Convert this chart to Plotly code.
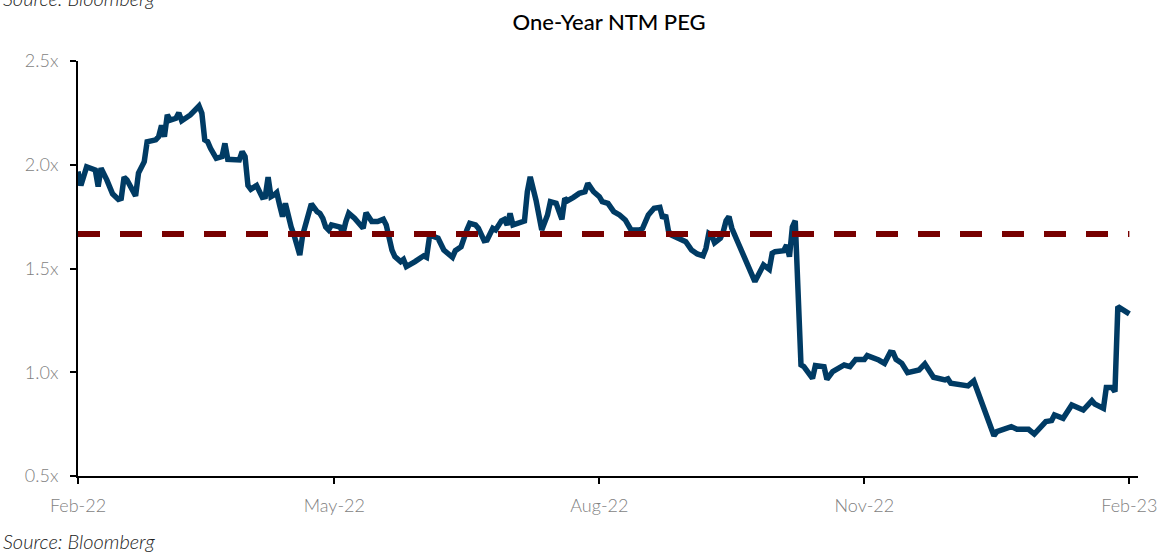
import plotly.graph_objects as go

dates = [
    "2022-02-01", "2022-02-02", "2022-02-04", "2022-02-07", "2022-02-08", "2022-02-09", "2022-02-11",
    "2022-02-13", "2022-02-15", "2022-02-16", "2022-02-17", "2022-02-18", "2022-02-21", "2022-02-22",
    "2022-02-24", "2022-02-25", "2022-02-28",
    "2022-03-01", "2022-03-02", "2022-03-03", "2022-03-04", "2022-03-05", "2022-03-07", "2022-03-08",
    "2022-03-09", "2022-03-12", "2022-03-15", "2022-03-16", "2022-03-17", "2022-03-18", "2022-03-19",
    "2022-03-21", "2022-03-23", "2022-03-24", "2022-03-25", "2022-03-27", "2022-03-29", "2022-03-30",
    "2022-03-31",
    "2022-04-01", "2022-04-02", "2022-04-03", "2022-04-04", "2022-04-06", "2022-04-07", "2022-04-08",
    "2022-04-09", "2022-04-10", "2022-04-11", "2022-04-12", "2022-04-13", "2022-04-14", "2022-04-15",
    "2022-04-16", "2022-04-17", "2022-04-19", "2022-04-20", "2022-04-21", "2022-04-23", "2022-04-25",
    "2022-04-26", "2022-04-27", "2022-04-28", "2022-04-29", "2022-04-30",
    "2022-05-03", "2022-05-04", "2022-05-05", "2022-05-06", "2022-05-08", "2022-05-10", "2022-05-11",
    "2022-05-12", "2022-05-14", "2022-05-16", "2022-05-18", "2022-05-19", "2022-05-20", "2022-05-21",
    "2022-05-22", "2022-05-24", "2022-05-25", "2022-05-26", "2022-05-29",
    "2022-06-01", "2022-06-02", "2022-06-03", "2022-06-04", "2022-06-06", "2022-06-08", "2022-06-10",
    "2022-06-11", "2022-06-12", "2022-06-13", "2022-06-14", "2022-06-16", "2022-06-17", "2022-06-19",
    "2022-06-20", "2022-06-22", "2022-06-23", "2022-06-25", "2022-06-26", "2022-06-28", "2022-06-29",
    "2022-06-30",
    "2022-07-01", "2022-07-02", "2022-07-06", "2022-07-07", "2022-07-08", "2022-07-10", "2022-07-11",
    "2022-07-12", "2022-07-14", "2022-07-15", "2022-07-17", "2022-07-18", "2022-07-19", "2022-07-20",
    "2022-07-21", "2022-07-23", "2022-07-25", "2022-07-27", "2022-07-28", "2022-07-30",
    "2022-08-01", "2022-08-02", "2022-08-04", "2022-08-06", "2022-08-08", "2022-08-10", "2022-08-12",
    "2022-08-15", "2022-08-16", "2022-08-18", "2022-08-20", "2022-08-22", "2022-08-23", "2022-08-24",
    "2022-08-25", "2022-08-26", "2022-08-29", "2022-08-31",
    "2022-09-02", "2022-09-04", "2022-09-06", "2022-09-07", "2022-09-08", "2022-09-09", "2022-09-10",
    "2022-09-12", "2022-09-13", "2022-09-14", "2022-09-15", "2022-09-16", "2022-09-18", "2022-09-20",
    "2022-09-22", "2022-09-23", "2022-09-24", "2022-09-25", "2022-09-27", "2022-09-29", "2022-09-30",
    "2022-10-01", "2022-10-04", "2022-10-05", "2022-10-06", "2022-10-07", "2022-10-08", "2022-10-10",
    "2022-10-11", "2022-10-14", "2022-10-15", "2022-10-18", "2022-10-19", "2022-10-21", "2022-10-25",
    "2022-10-27", "2022-10-29",
    "2022-11-01", "2022-11-02", "2022-11-06", "2022-11-08", "2022-11-10", "2022-11-11", "2022-11-12",
    "2022-11-14", "2022-11-16", "2022-11-20", "2022-11-22", "2022-11-25", "2022-11-29", "2022-11-30",
    "2022-12-01", "2022-12-04", "2022-12-07", "2022-12-09", "2022-12-16", "2022-12-17", "2022-12-20",
    "2022-12-22", "2022-12-24", "2022-12-28", "2022-12-30",
    "2023-01-01", "2023-01-03", "2023-01-05", "2023-01-06", "2023-01-09", "2023-01-12", "2023-01-16",
    "2023-01-19", "2023-01-20", "2023-01-23", "2023-01-24", "2023-01-26", "2023-01-27", "2023-01-28",
    "2023-02-01",
]

peg = [
    1.967, 1.90, 1.99, 1.975, 1.895, 1.983, 1.927,
    1.86, 1.833, 1.838, 1.94, 1.927, 1.85, 1.96,
    2.015, 2.111, 2.12,
    2.135, 2.19, 2.135, 2.24, 2.215, 2.224, 2.25,
    2.212, 2.24, 2.283, 2.248, 2.12, 2.111, 2.079,
    2.031, 2.039, 2.103, 2.026, 2.023, 2.023, 2.063,
    2.039,
    1.90, 1.882, 1.891, 1.90, 1.843, 1.846, 1.94,
    1.846, 1.854, 1.866, 1.806, 1.75, 1.814, 1.742,
    1.70, 1.661, 1.565, 1.661, 1.714, 1.811, 1.774,
    1.765, 1.742, 1.70, 1.686, 1.71,
    1.70, 1.67, 1.726, 1.766, 1.742, 1.714, 1.694,
    1.769, 1.726, 1.726, 1.737, 1.71, 1.637, 1.589,
    1.557, 1.533, 1.544, 1.509, 1.533,
    1.561, 1.554, 1.65, 1.657, 1.646, 1.589, 1.561,
    1.554, 1.586, 1.593, 1.605, 1.686, 1.718, 1.71,
    1.694, 1.634, 1.637, 1.694, 1.686, 1.73, 1.737,
    1.71,
    1.766, 1.71, 1.729, 1.87, 1.942, 1.83, 1.75,
    1.686, 1.758, 1.822, 1.814, 1.765, 1.737, 1.838,
    1.827, 1.843, 1.862, 1.87, 1.91, 1.87,
    1.846, 1.822, 1.814, 1.774, 1.758, 1.734, 1.686,
    1.686, 1.694, 1.758, 1.79, 1.795, 1.742, 1.758,
    1.68, 1.661, 1.646, 1.629,
    1.589, 1.57, 1.561, 1.597, 1.669, 1.661, 1.624,
    1.646, 1.677, 1.73, 1.75, 1.694, 1.629, 1.565,
    1.501, 1.48, 1.437, 1.464, 1.517, 1.496, 1.573,
    1.581, 1.586, 1.613, 1.557, 1.70, 1.73, 1.035,
    1.027, 0.971, 1.032, 1.027, 0.966, 1.003, 1.035,
    1.027, 1.062,
    1.062, 1.08, 1.059, 1.043, 1.096, 1.094, 1.062,
    1.043, 0.998, 1.011, 1.04, 0.976, 0.963, 0.968,
    0.947, 0.939, 0.934, 0.958, 0.694, 0.714, 0.725,
    0.738, 0.725, 0.725, 0.702,
    0.73, 0.762, 0.767, 0.794, 0.778, 0.842, 0.818,
    0.863, 0.847, 0.826, 0.927, 0.927, 0.906, 1.316,
    1.281,
]

average_peg = 1.666
x_range = ["2022-02-01", "2023-02-04"]
x_tickvals = ["2022-02-01", "2022-05-01", "2022-08-01", "2022-11-01", "2023-02-01"]
y_tickvals = [0.5, 1.0, 1.5, 2.0, 2.5]
y_ticktext = [f"{v:.1f}x" for v in y_tickvals]

title_text = "One-Year NTM PEG"
source_text = "Source: Bloomberg"

BLUE = "#003B64"
RED = "#780000"
FONT = "Lato"
TICK_FONT = dict(family=FONT, size=18, color="#7f7f7f", weight=300)
SOURCE_FONT = dict(family=FONT, size=20, color="#222222", style="italic", weight=300)

fig = go.Figure()

fig.add_trace(go.Scatter(
    x=dates, y=peg, mode="lines",
    line=dict(color=BLUE, width=5.5),
    hoverinfo="x+y", showlegend=False,
))

fig.add_trace(go.Scatter(
    x=[dates[0], dates[-1]], y=[average_peg, average_peg], mode="lines",
    line=dict(color=RED, width=6, dash="22px,20px"),
    showlegend=False,
))

fig.update_layout(
    width=1169, height=552,
    margin=dict(l=78, r=28, t=61, b=76),
    paper_bgcolor="white", plot_bgcolor="white",
    font=dict(family=FONT, color="#7f7f7f", size=16),
    title=dict(
        text=title_text, x=0.521, xanchor="center", y=1 - 22 / 552, yanchor="middle",
        font=dict(family=FONT, size=22, color="#000000", weight=500),
    ),
    xaxis=dict(
        type="date", range=x_range, tickvals=x_tickvals, tickformat="%b-%y",
        showgrid=False, zeroline=False,
        showline=True, linecolor="#000000", linewidth=2,
        ticks="outside", ticklen=6, tickwidth=2, tickcolor="#000000",
        ticklabelstandoff=6,
        tickfont=TICK_FONT,
    ),
    yaxis=dict(
        range=[0.5, 2.5], tickvals=y_tickvals, ticktext=y_ticktext,
        showgrid=False, zeroline=False,
        showline=True, linecolor="#000000", linewidth=2,
        ticks="outside", ticklen=6, tickwidth=2, tickcolor="#000000",
        ticklabelstandoff=8,
        tickfont=TICK_FONT,
    ),
    annotations=[
        dict(text=source_text, xref="paper", yref="paper", x=-0.0725, y=-0.1566,
             xanchor="left", yanchor="middle", showarrow=False, font=SOURCE_FONT),
        dict(text=source_text, xref="paper", yref="paper", x=-0.0725, y=1.153,
             xanchor="left", yanchor="middle", showarrow=False, font=SOURCE_FONT),
    ],
)

fig.write_html("out.html")
